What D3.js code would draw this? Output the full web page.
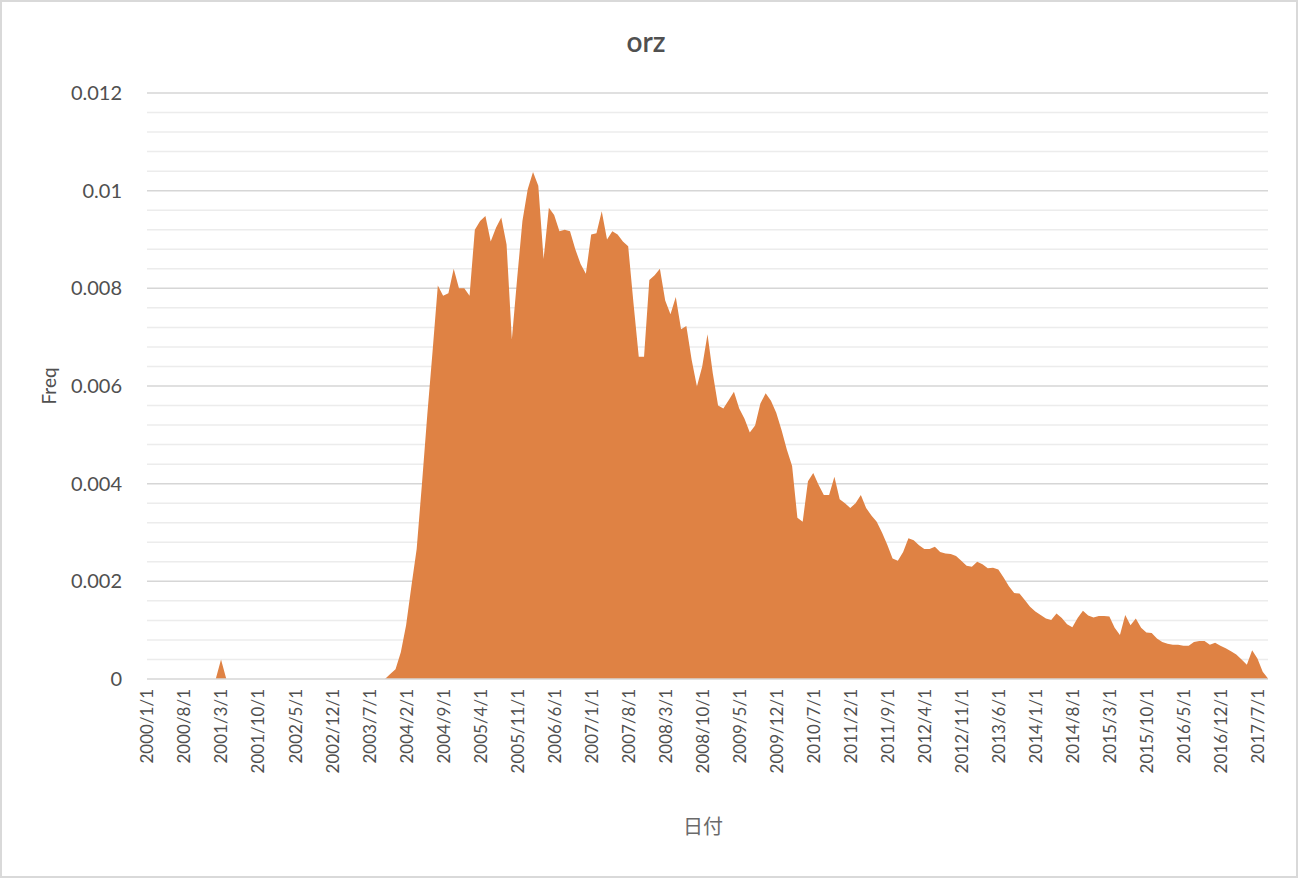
<!DOCTYPE html>
<html><head><meta charset="utf-8">
<script src="https://cdn.jsdelivr.net/npm/d3@7/dist/d3.min.js"></script>
<style>body{margin:0;background:#fff}svg{display:block}</style>
</head><body>
<svg id="chart" width="1299" height="879"></svg>
<script>
// ---- data ----
const title = "orz";
const xTitle = "日付";
const yTitle = "Freq";
const firstYear = 2000, firstMonth = 1, monthCount = 213; // 2000/1 .. 2017/9
const freq = [
 0,0,0,0,0,0,0,0,0,0,0,0,0,0,
 0.0004,
 0,0,0,0,0,0,0,0,0,0,0,0,0,0,0,0,0,0,0,0,0,0,0,0,0,0,0,0,0,0,
 0,0.0001,0.0002,0.00055,0.0011,0.0019,0.00266,0.0040,0.0054,0.0067,
 0.00806,0.00785,0.0079,0.0084,0.0080,0.0080,0.00785,0.0092,0.00938,0.00948,
 0.00896,0.00924,0.00945,0.0089,0.00695,0.0082,0.00938,0.01003,0.01038,0.0101,
 0.0086,0.00965,0.0095,0.00917,0.0092,0.00917,0.0088,0.0085,0.0083,0.0091,
 0.00913,0.00958,0.0090,0.00917,0.0091,0.00896,0.00886,0.0077,0.0066,0.0066,
 0.00817,0.00827,0.0084,0.00775,0.00747,0.00782,0.00716,0.00723,0.00654,0.00599,
 0.0064,0.00706,0.00626,0.0056,0.00554,0.00571,0.00588,0.00554,0.00533,0.00505,
 0.00519,0.00564,0.00585,0.0057,0.00545,0.0051,0.0047,0.00436,0.0033,0.00322,
 0.00405,0.00422,0.00398,0.00377,0.00377,0.00414,0.00368,0.0036,0.0035,0.0036,
 0.00377,0.0035,0.00335,0.00322,0.0030,0.00275,0.00247,0.00242,0.0026,0.00288,
 0.00284,0.00274,0.00266,0.00266,0.00271,0.0026,0.00257,0.00256,0.00252,0.00242,
 0.00232,0.0023,0.0024,0.00235,0.00227,0.00228,0.00224,0.00208,0.0019,0.00176,
 0.00175,0.00162,0.00148,0.00138,0.00131,0.00124,0.00121,0.00134,0.00125,0.00112,
 0.00106,0.00125,0.0014,0.0013,0.00126,0.00129,0.00129,0.00128,0.00105,0.0009,
 0.00131,0.0011,0.00124,0.00105,0.00095,0.00094,0.00083,0.00076,0.00072,0.0007,
 0.0007,0.00068,0.00068,0.00076,0.00078,0.00078,0.0007,0.00074,0.00068,0.00063,
 0.00057,0.0005,0.0004,0.00029,0.00059,0.00042,0.00015,0.00001
];
const xTickLabels = ["2000/1/1","2000/8/1","2001/3/1","2001/10/1","2002/5/1","2002/12/1","2003/7/1","2004/2/1","2004/9/1","2005/4/1","2005/11/1","2006/6/1","2007/1/1","2007/8/1","2008/3/1","2008/10/1","2009/5/1","2009/12/1","2010/7/1","2011/2/1","2011/9/1","2012/4/1","2012/11/1","2013/6/1","2014/1/1","2014/8/1","2015/3/1","2015/10/1","2016/5/1","2016/12/1","2017/7/1"];
const yTickValues = [0,0.002,0.004,0.006,0.008,0.01,0.012];
const yTickLabels = ["0","0.002","0.004","0.006","0.008","0.01","0.012"];
const yMinorStep = 0.0004;

// categories
const dates = d3.range(monthCount).map(i => {
  const m = firstMonth - 1 + i;
  return `${firstYear + Math.floor(m / 12)}/${(m % 12) + 1}/1`;
});
const data = dates.map((d, i) => ({date: d, v: freq[i]}));

// ---- layout ----
const W = 1299, H = 879;
const plot = {left: 147, right: 1268, top: 93, bottom: 679};
const txt = "#505050";
const font = "Lato, 'Open Sans', sans-serif";

const svg = d3.select("#chart");
svg.append("rect").attr("x",1).attr("y",1).attr("width",W-3).attr("height",H-3)
  .attr("fill","#fff").attr("stroke","#d9d9d9").attr("stroke-width",2);

const x = d3.scalePoint().domain(dates).range([plot.left, plot.right]);
const y = d3.scaleLinear().domain([0, 0.012]).range([plot.bottom, plot.top]);

// minor gridlines
const minor = d3.range(0, 0.012 + 1e-9, yMinorStep).filter(v => !yTickValues.some(t => Math.abs(t - v) < 1e-9));
svg.append("g").selectAll("line").data(minor).join("line")
  .attr("x1", plot.left).attr("x2", plot.right)
  .attr("y1", d => y(d)).attr("y2", d => y(d))
  .attr("stroke", "#ececec").attr("stroke-width", 1.5);

// major gridlines
svg.append("g").selectAll("line").data(yTickValues.slice(1)).join("line")
  .attr("x1", plot.left).attr("x2", plot.right)
  .attr("y1", d => y(d)).attr("y2", d => y(d))
  .attr("stroke", "#d6d6d6").attr("stroke-width", 1.5);

// area
const area = d3.area().x(d => x(d.date)).y0(y(0)).y1(d => y(d.v));
svg.append("path").datum(data).attr("d", area).attr("fill", "#df8244");

// x axis line
svg.append("line").attr("x1", plot.left).attr("x2", plot.right)
  .attr("y1", y(0)).attr("y2", y(0)).attr("stroke", "#d6d6d6").attr("stroke-width", 1.5);

// y axis labels
const yAxis = d3.axisLeft(y).tickValues(yTickValues).tickFormat((d, i) => yTickLabels[i]).tickSize(0).tickPadding(25);
const gy = svg.append("g").attr("transform", `translate(${plot.left},0)`).call(yAxis);
gy.select(".domain").remove();
gy.selectAll("text").attr("fill", txt).attr("font-family", font).attr("font-size", 20);

// x axis labels
const xAxis = d3.axisBottom(x).tickValues(xTickLabels).tickSize(0).tickPadding(0);
const gx = svg.append("g").attr("transform", `translate(0,${plot.bottom})`).call(xAxis);
gx.select(".domain").remove();
gx.selectAll("text")
  .attr("fill", txt).attr("font-family", font).attr("font-size", 17)
  .attr("transform", "rotate(-90)")
  .attr("text-anchor", "end").attr("dy", "0.35em")
  .attr("x", -10).attr("y", 0);

// titles
svg.append("text").attr("x", 646).attr("y", 52).attr("text-anchor", "middle")
  .attr("fill", txt).attr("font-family", font).attr("font-size", 28).attr("font-weight", 600).text(title);
svg.append("text").attr("x", 703).attr("y", 834).attr("text-anchor", "middle")
  .attr("fill", "#6a6a6a").attr("font-family", "'Noto Sans CJK JP', sans-serif").attr("font-size", 20).text(xTitle);
svg.append("text").attr("transform", "translate(56,386) rotate(-90)").attr("text-anchor", "middle")
  .attr("fill", txt).attr("font-family", font).attr("font-size", 19).text(yTitle);
</script>
</body></html>
